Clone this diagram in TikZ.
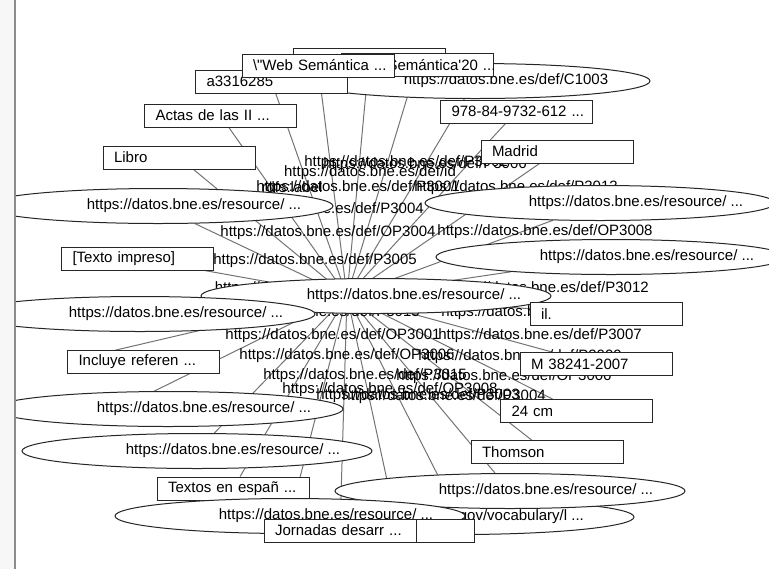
\documentclass[tikz,border=0pt]{standalone}
\usepackage{fontspec}
\setmainfont{Liberation Sans}[Ligatures=TeXOff]
\usetikzlibrary{shapes.geometric}
\pgfdeclarelayer{edges}
\pgfsetlayers{edges,main}

\begin{document}
\begin{tikzpicture}[x=0.75pt, y=-0.75pt,
    font=\fontsize{11.25}{13}\selectfont,
    literal/.style={draw=black!85, fill=white, line width=0.75pt, minimum width=114pt,
      minimum height=17.25pt, text width=97.5pt, inner xsep=8.25pt, inner ysep=0pt, align=left,
      execute at begin node=\hbox\bgroup, execute at end node=\egroup},
    recurso/.style={draw=black!85, fill=white, line width=0.75pt, ellipse,
      minimum width=262.5pt, minimum height=26.25pt, inner sep=0pt},
    uri/.style={xshift=27pt, inner sep=0pt},
    prop/.style={inner sep=0pt},
    enlace/.style={draw=black!55, line width=0.75pt}]
      \useasboundingbox (0, 0) rectangle (769, 569);
      \clip (0, 0) rectangle (769, 569);
      \node[recurso, label={[uri, xshift=-3.75pt]center:{https://datos.bne.es/def/C1003}}] (clase) at (475, 81) {};
      \node[literal] (tit0) at (369, 59.5) {};
      \node[literal] (ident) at (271.5, 81.5) {a3316285};
      \node[literal] (tit2) at (417, 65) {Web Semántica'20 ...};
      \node[literal] (tit1) at (318, 65.5) {\textbackslash"Web Semántica ...};
      \node[literal] (isbn) at (516.5, 111.5) {978-84-9732-612 ...};
      \node[literal] (lugar) at (557, 151.5) {Madrid};
      \node[literal] (actas) at (220.5, 115.5) {Actas de las II ...};
      \node[literal] (libro) at (179, 157.5) {Libro};
      \node[recurso, label={[uri]center:{https://datos.bne.es/resource/ ...}}] (resb) at (600, 203) {};
      \node[recurso, label={[uri]center:{https://datos.bne.es/resource/ ...}}] (resa) at (158, 206) {};
      \node[literal] (soporte) at (137.5, 258.5) {[Texto impreso]};
      \node[recurso, label={[uri]center:{https://datos.bne.es/resource/ ...}}] (resc) at (611, 257) {};
      \node[recurso, label={[uri, xshift=1.5pt]center:{https://datos.bne.es/resource/ ...}}] (obra) at (376, 296) {};
      \node[recurso, label={[uri]center:{https://datos.bne.es/resource/ ...}}] (resd) at (140, 314) {};
      \node[literal] (ilus) at (606, 314) {il.};
      \node[literal] (deplegal) at (596, 364) {M 38241-2007};
      \node[literal] (nota) at (143.5, 361.5) {Incluye referen ...};
      \node[literal] (dimen) at (576.5, 411) {24 cm};
      \node[recurso, label={[uri]center:{https://datos.bne.es/resource/ ...}}] (rese) at (168, 409) {};
      \node[recurso, label={[uri]center:{https://datos.bne.es/resource/ ...}}] (resf) at (197, 451) {};
      \node[literal] (editor) at (547, 452) {Thomson};
      \node[literal] (lengua) at (233, 488.5) {Textos en españ ...};
      \node[recurso, label={[uri, xshift=-9pt]center:{http://id.loc.gov/vocabulary/l ...}}] (idioma) at (459, 517) {};
      \node[recurso, label={[uri]center:{https://datos.bne.es/resource/ ...}}] (resg) at (510, 491) {};
      \node[recurso, label={[uri]center:{https://datos.bne.es/resource/ ...}}] (resh) at (290, 516) {};
      \node[literal] (jorn0) at (398, 530.5) {};
      \node[literal] (jorn) at (340, 530.5) {Jornadas desarr ...};
      \coordinate (hub) at (347, 296);
      \begin{pgfonlayer}{edges}
      \draw[enlace] (hub) -- (clase);
      \draw[enlace] (hub) -- (tit0);
      \draw[enlace] (hub) -- (ident);
      \draw[enlace] (hub) -- (tit2);
      \draw[enlace] (hub) -- (tit1);
      \draw[enlace] (hub) -- (isbn);
      \draw[enlace] (hub) -- (lugar);
      \draw[enlace] (hub) -- (actas);
      \draw[enlace] (hub) -- (libro);
      \draw[enlace] (hub) -- (resa);
      \draw[enlace] (hub) -- (resb);
      \draw[enlace] (hub) -- (resc);
      \draw[enlace] (hub) -- (soporte);
      \draw[enlace] (hub) -- (resd);
      \draw[enlace] (hub) -- (ilus);
      \draw[enlace] (hub) -- (deplegal);
      \draw[enlace] (hub) -- (nota.west);
      \draw[enlace] (hub) -- (dimen);
      \draw[enlace] (hub) -- ([xshift=-37.5pt]rese.center);
      \draw[enlace] (hub) -- (resf);
      \draw[enlace] (hub) -- (editor);
      \draw[enlace] (hub) -- (lengua);
      \draw[enlace] (hub) -- (idioma);
      \draw[enlace] (hub) -- (resg);
      \draw[enlace] (hub) -- (resh);
      \draw[enlace] (hub) -- (jorn0);
      \draw[enlace] (hub) -- (jorn);
      \node[prop] (p1) at (322, 210) {https://datos.bne.es/def/P3004};
      \node[prop] (p2) at (328, 233) {https://datos.bne.es/def/OP3004};
      \node[prop] (p3) at (315, 261) {https://datos.bne.es/def/P3005};
      \node[prop] (p4) at (545, 232) {https://datos.bne.es/def/OP3008};
      \node[prop] (p5) at (547, 289) {https://datos.bne.es/def/P3012};
      \node[prop] (p6) at (316, 289) {https://datos.bne.es/def/P3011};
      \node[prop] (p7) at (406, 163) {https://datos.bne.es/def/P3002};
      \node[prop] (p8) at (425, 165) {https://datos.bne.es/def/P3006};
      \node[prop] (p9) at (370, 173) {https://datos.bne.es/def/id};
      \node[prop] (p10) at (292, 187) {rdfs:label};
      \node[prop] (p11) at (358, 188) {https://datos.bne.es/def/P3001};
      \node[prop] (p12) at (516, 188) {https://datos.bne.es/def/P3013};
      \node[prop] (p13) at (318, 313) {https://datos.bne.es/def/P3015};
      \node[prop] (p14) at (543, 313) {https://datos.bne.es/def/P3010};
      \node[prop] (p15) at (333, 336) {https://datos.bne.es/def/OP3001};
      \node[prop] (p16) at (540, 336) {https://datos.bne.es/def/P3007};
      \node[prop] (p17) at (347, 356) {https://datos.bne.es/def/OP3006};
      \node[prop] (p18) at (520, 357) {https://datos.bne.es/def/P3009};
      \node[prop] (p19) at (365, 376) {https://datos.bne.es/def/P3015};
      \node[prop] (p20) at (504, 377) {https://datos.bne.es/def/OP3006};
      \node[prop] (p21) at (390, 390) {https://datos.bne.es/def/OP3008};
      \node[prop] (p22) at (418, 396) {https://datos.bne.es/def/P3003};
      \node[prop] (p23) at (444, 397) {https://datos.bne.es/def/P3004};
      \end{pgfonlayer}
      \fill[black!3] (0, 0) rectangle (15, 569);
      \draw[black!45, line width=1.5pt] (15, 0) -- (15, 569);
\end{tikzpicture}
\end{document}
